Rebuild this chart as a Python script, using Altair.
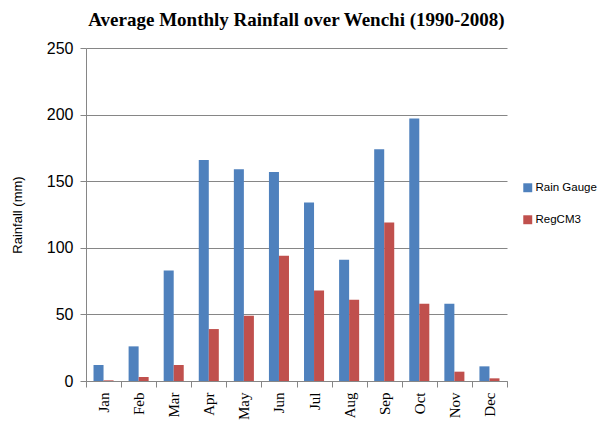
import altair as alt
import pandas as pd

months = ["Jan", "Feb", "Mar", "Apr", "May", "Jun", "Jul", "Aug", "Sep", "Oct", "Nov", "Dec"]
rain_gauge = [12, 26, 83, 166, 159, 157, 134, 91, 174, 197, 58, 11]
regcm3 = [0.5, 3, 12, 39, 49, 94, 68, 61, 119, 58, 7, 2]
series = ["Rain Gauge", "RegCM3"]
colors = ["#4F81BD", "#C0504D"]

rows = []
for m, a, b in zip(months, rain_gauge, regcm3):
    rows.append({"Month": m, "Series": series[0], "Rainfall": a})
    rows.append({"Month": m, "Series": series[1], "Rainfall": b})
df = pd.DataFrame(rows)

bars = alt.Chart(df).mark_bar().encode(
    x=alt.X("Month:N", sort=months,
            scale=alt.Scale(paddingInner=0, paddingOuter=0),
            axis=alt.Axis(title=None, labelAngle=270, labelFont="Liberation Serif",
                          labelFontSize=15, labelColor="black", labelAlign="right",
                          labelBaseline="middle", labelPadding=5,
                          tickBand="extent", ticks=True, tickSize=6, tickColor="#868686",
                          domainColor="#868686", grid=False)),
    xOffset=alt.XOffset("Series:N", sort=series,
                        scale=alt.Scale(paddingInner=0, paddingOuter=0.75)),
    y=alt.Y("Rainfall:Q", scale=alt.Scale(domain=[0, 250]),
            axis=alt.Axis(title="Rainfall (mm)", values=[0, 50, 100, 150, 200, 250],
                          titleFont="Liberation Sans", titleFontSize=13,
                          titleFontWeight="normal", titleColor="black", titlePadding=22,
                          labelFont="Liberation Sans", labelFontSize=16, labelColor="black",
                          labelPadding=7, tickSize=6, tickColor="#868686",
                          domainColor="#868686", gridColor="#868686", gridWidth=1)),
    color=alt.Color("Series:N", sort=series,
                    scale=alt.Scale(domain=series, range=colors),
                    legend=alt.Legend(title=None, orient="none", legendX=436, legendY=134,
                                      symbolType="square", symbolSize=80,
                                      symbolStrokeWidth=0,
                                      labelFont="Liberation Sans", labelFontSize=11.5,
                                      labelColor="black", rowPadding=19, labelOffset=2)),
)

chart = bars.properties(
    width=421, height=333,
    title=alt.Title("Average Monthly Rainfall over Wenchi (1990-2008)",
                    font="Liberation Serif", fontSize=19, fontWeight="bold",
                    color="black", anchor="middle", offset=10),
    padding={"left": 78, "top": 40, "right": 93, "bottom": 39},
    autosize=alt.AutoSizeParams(type="none"),
).configure_view(stroke=None)

chart.save("out.html", embed_options={"renderer": "svg", "actions": False})
